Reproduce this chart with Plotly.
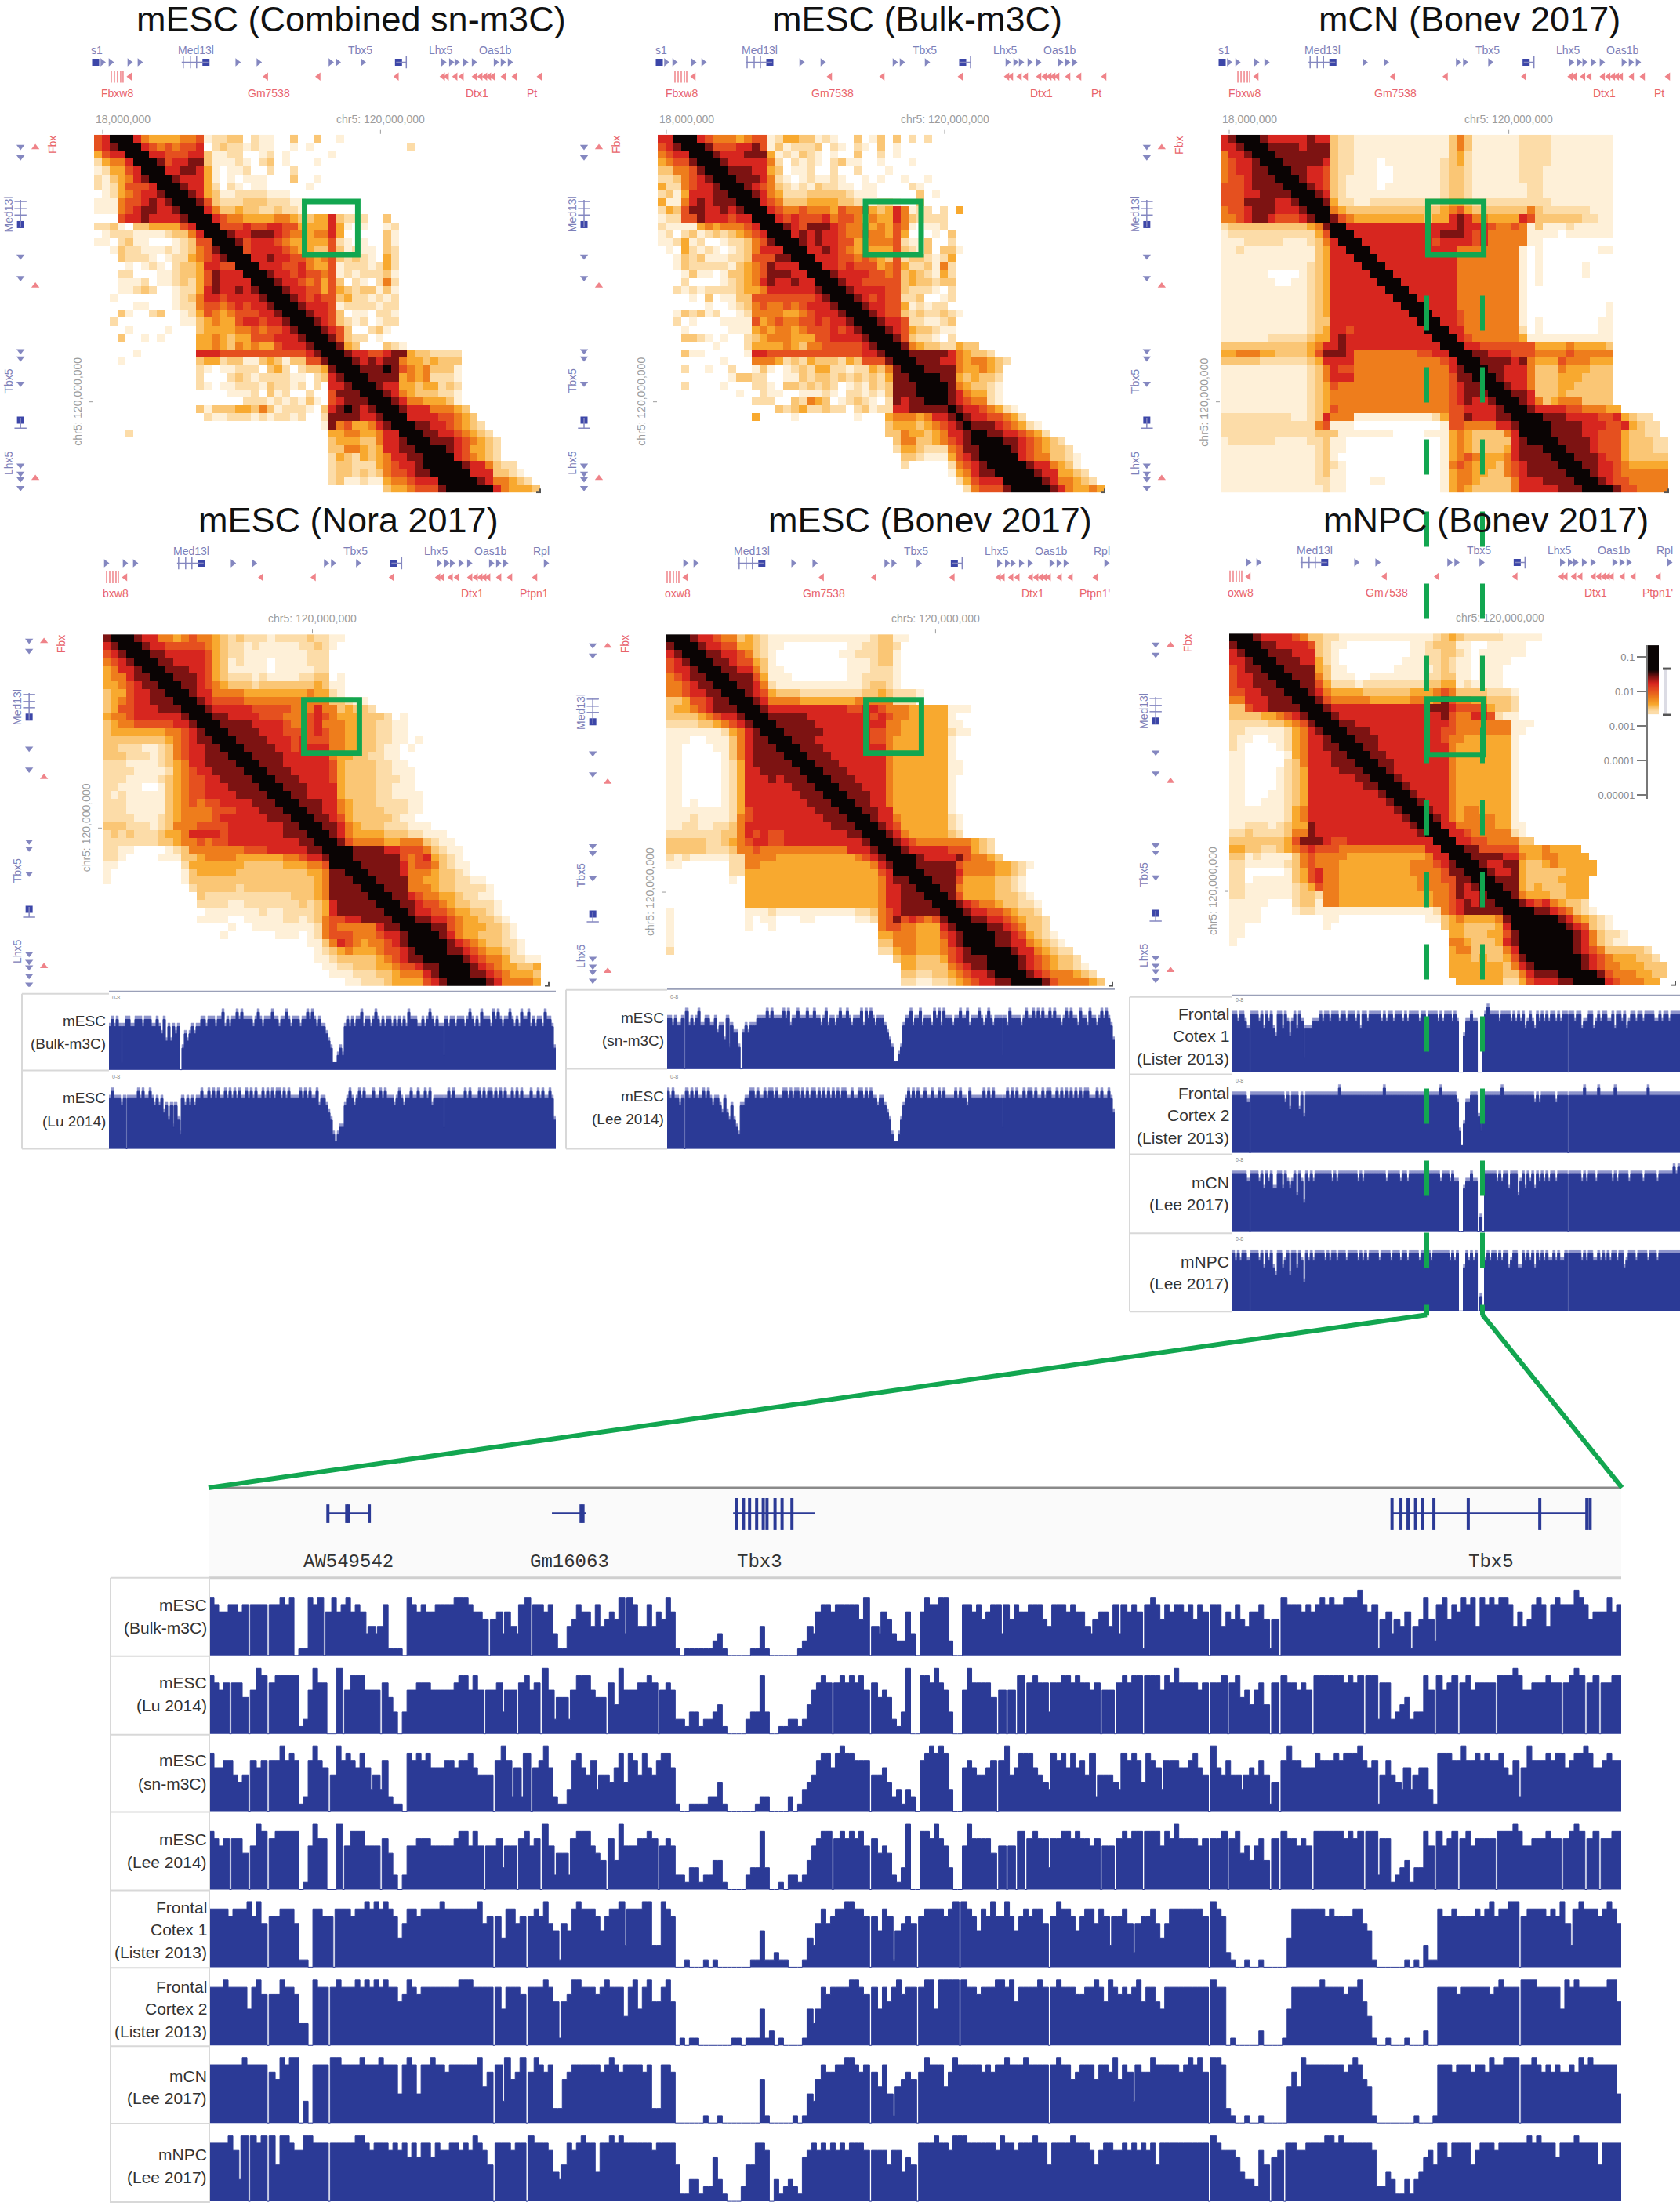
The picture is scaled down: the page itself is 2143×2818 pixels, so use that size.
import numpy as np
import plotly.graph_objects as go

W, H = 2143, 2818

# contact maps: each row is one bin, starts on the diagonal, digits are colour levels (0 white .. 9 black)
hm_combined = [
    "9996642122 0110201000", "997764211 1110211000", "99875432 2110320100 0001002000",
    "9975444 4556122330 2110030030 0100", "997656 5667023221 2110010100 0000000000 2",
    "99776 6677311220 0120100000 1", "9986 7788311121 0230100010", "997 7887410112 0020020000",
    "99 8777410101 1100030010", "9 9877420210 1100000100", "9987431122 2211100000",
    "998632223 3322211000", "99753343 3223221000", "9976554 4445543344 7322200300",
    "996667 6677664444 7410100120", "99877 8887655455 7400000310", "9986 7776544444 6210100310",
    "996 7777654433 6312110320", "99 7787766545 6323210420", "9 9777667544 6122212420",
    "9987767665 6121222310", "998776564 6302102520", "99877664 6432331310", "9987676 6342212120",
    "998777 6122221220", "99877 6301102210", "9987 6321201220", "998 7630023100", "99 8632201000",
    "9 9843000321", "9987766788 4332222", "998787885 4434333", "99888986 5453331", "9988884 5452221",
    "998774 4344232", "99875 4333221", "9987 5544431", "998 7775554 3", "99 7777665 43",
    "9 9887765 432", "9988776543 2", "998887654 32", "99987644 32", "999765 432", "99987 7532 2",
    "9997 7733 21", "999 8755432", "99 9975 4443",
]
hm_bulk = [
    "9997654324 2421211000", "997765322 3142121100", "99876532 1132102011 0020012",
    "9976555 4566124433 1210030130 30202", "998666 7786131222 3021021030 1000",
    "99877 7888412132 1010030020 1", "9987 7777520212 1023110010 001", "998 8877430112 0020020001",
    "99 8887521012 1121001010 01001", "9 9876532121 3221101100 0021", "9987542223 3333211100 000301",
    "997653334 4443321122 1003", "99765565 5546556434 751220204", "9976766 6756654544 7532222",
    "998768 8876555454 65101120", "99787 8776556554 640001030", "9987 8776645555 621130020",
    "997 7876545444 632130331", "99 7776656543 623321240", "9 9776766645 642231520",
    "9987777665 634321420", "998776666 634332330", "99877776 632221020", "9987676 622300120",
    "998776 641212200", "99876 632322321", "9987 76221123", "998 76433211", "99 86322102",
    "9 9854332 2433", "9988888 7543 32", "9988877 5455432", "998888 544543", "99988 434332",
    "9998 543321", "998 754421", "98 7655 21", "9 8776 5421", "9 8776 6542", "9 8887 6542 1",
    "9988 7765 42", "99988 7654 32", "99987 6543 32", "9997 6553 321", "9998 7754 31",
    "9998 7744 32", "999 8755 432", "99 9875 4454",
]
hm_mcn = [
    "9987755556 6655211111 1111111113 4311111122 2111111111", "998776666 6665321111 1111111113 4311111122 2211111111",
    "99877766 6666321211 1111111113 5311111122 2211111111", "9987777 7877322111 1111111113 5311111122 2211111111",
    "998888 7888322111 1111111113 5311111122 2211111111", "99888 8888322111 1111111113 4211111122 2211111111",
    "9988 8887322111 0111111123 4211111122 2211111111", "998 8776322111 0011111123 3211111122 2111111111",
    "99 8776321111 0011111123 3211111122 2111111111", "9 9876321111 0111111123 3211111112 2111111111",
    "9987321111 1111111123 3211111112 2111111111", "998422112 2222222234 4322222222 2211111111",
    "99543333 3333333345 6433333335 3222222111", "9865444 4444443447 8755444476 3333332211",
    "997777 7777777777 8777655651 3111211111", "99777 7777777788 8767555551 1110111111",
    "9977 7777777677 7767555551 1000000000", "997 7777777777 5555555510 1000000011", "99 7777777777 5555555510 1000000000",
    "9 9777777777 5555555510 1000001000", "9977777777 5555555510 1000001000", "997777777 5555555510 1000000000",
    "99777777 5555555510 0000000000", "9977777 5555555510 0000000000", "997777 5555555510 0000000001",
    "99777 6555555510 0000000001", "9977 6555555510 1000000011", "997 7555555520 1000000011",
    "99 7655555541 1111111111", "9 9776666666 4444544443", "9988777666 5555655555", "998888785 4446555444",
    "99887775 3335444333", "9987775 3334443333", "998775 3334433333", "99887 3334333333", "9987 5345553333",
    "998 7777665554 4", "99 9888777766 7432 2", "9 9988887776 6743 22", "9988887766 643 322", "998888766 6433 322",
    "99888766 6433 322", "9988876 6433 3333", "99887 7654 44444", "9987 76555 5555", "998 76655 5555", "99 98665 5555",
]
hm_nora = [
    "9887654443 3343333322 2222223222 2111", "998765544 4454433322 2212223322 2100", "99877554 5655432322 2122223221 1000",
    "9987766 6665432212 1111122321", "998877 7776432211 1111112220", "99887 7776431211 1011112220", "9988 8776431111 1011111220",
    "998 8876432221 2111122330 1", "99 8876543332 3333333431 1", "9 9877555544 4444445442 1", "9987666655 5555555553 3211",
    "998777776 6666555755 3433 2", "99887777 6665556765 4443332 01", "9988887 7776556755 5443322 11",
    "998888 7776666765 5443322110", "99888 8777676665 5443322110 1", "9988 8877677775 5443321101", "998 8887777775 4433221100",
    "99 8887777776 4333322110", "9 9888777776 4333322111", "9988877776 4333322211", "998887777 4333322111", "99887777 4333322111 1",
    "9988877 5433322221 1", "998877 5433332221 1", "99887 6433333211", "9988 7543332221 11", "998 7544443332 2111",
    "99 8655554455 5321 1", "9 9988887766 6532 11", "9988888865 6743 21", "998888875 6653 211", "99888875 5543 321",
    "9988885 5443322110", "998885 5543322221", "99887 6554432211", "9988 7665433222 1", "998 7766544332 1",
    "99 8877654433 21", "9 9988654443 321", "9998754433 321", "99987654 3322 1", "998876544 321", "99987655 4221 1",
    "9998765 4433 4", "998876 5444 3", "99987 5555 4",
]
hm_bonev = [
    "9987665553 3321111111 1111112332 1000001111 12", "998776553 4321111111 1111112331 1", "99877664 4321100000 0001122332",
    "9988776 5321000000 0011222331", "998876 6431000000 0001112331", "99887 7531100000 0001112221", "9988 8641110000 0001122221",
    "998 8752111111 1111123321", "99 8764333222 2222233432 221", "9 9875555444 4444555552 22",
    "9987777777 7776677655 5444441 11", "998888877 7777776765 5444441", "99888887 7777777755 4444441 1", "9988888 7777776655 4444442 11",
    "998887 7777776654 4444441", "99888 7777777754 4444441", "9988 8777777754 4444441", "998 8877777754 4444441 1",
    "99 8887777754 4444441 1", "9 9888777754 4444441", "9988877754 4444441", "998887754 4444441", "99887754 4444441",
    "9988774 4444441", "998775 4444442 1", "99876 4444442 1", "9987 5444443 2", "998 7655555 55432", "99 8777776 66432",
    "9 9987777 865543", "9988888655 5544 321", "998888755 5544 32", "99888644 4433 21", "9988544 4433 21", "998644 4433 321",
    "99876 5543 3221", "9987 7665 4332", "998 8776 54332", "99 9887 65332", "9 9988 764321", "9988775432 1", "99987754 322",
    "99987654 332", "9987654 3321", "998765 5543 2", "99986 5555 43",
]
hm_npc = [
    "9987766665 3322221111 1111112343 2222211111 1", "998777765 3322111111 1111112343 2222211111", "99887777 6321100000 0001123331 10011111",
    "9988877 7321000000 0001122332 10111111", "998887 7421000000 0011122321 101111", "99888 8431100000 0111112321 10111",
    "9988 8531110011 1111122331 10111", "998 8642221222 2222233441 21111", "99 8754444333 3334445653 3332 221",
    "9 9865555544 4445545865 5443 332", "9987777777 7777788876 6664 332", "998777777 7777777865 5776 211",
    "99887777 7777777765 5555551 11", "9988877 7777777665 5555551 1", "998887 7777777655 4444441", "99887 7777777754 4444441",
    "9988 7777777754 4444441", "998 8777777754 4444441", "99 8777777754 4444441", "9 9877777754 4444441", "9987777754 4444441",
    "998777754 4444441", "99877754 4444441", "9987754 5544441", "998754 5555441", "99775 5555441 1", "9977 6555552 1",
    "997 7665555 33", "99 8866666 4445444 4", "9 9888877 5445544 4 4", "9987788 4334544 4 44", "998778 4333334 44 4",
    "99888 43333 4444", "9988 434 3334 44", "998 544 4334 44", "99 8767 543 32", "9 9988 7653 21", "99999 8754 321",
    "99999 8763 21", "99999 8753 221", "9999 8753 211", "999 8765 33333 2", "999 8765 4443 32", "99 8765 5444 333",
    "9 9986 5554 433", "9997 6555 44",
]
hm_levels = ["#ffffff", "#fef0d8", "#fcdca8", "#fac675", "#f8a92f", "#ee7d1c", "#e5501f", "#d7261f", "#7d1312", "#0a0404"]

# genes, in bins of the top left map
blue_arrows = [1.05, 2.1, 4.5, 5.8, 18.3, 21, 30.2, 31.1, 34.3, 44.6, 45.6, 46.3, 47.4, 48.5, 51.3, 52.2, 53.1, 58.3]
red_arrows = [4.6, 22, 28.7, 38.7, 44.6, 45.1, 46.2, 47, 48.7, 49.4, 50, 50.5, 51, 52.4, 53.8, 57]
left_red_arrows = [4.6, 22, 46.2]
blue_ticks = [11.4, 12.3, 13.1, 39.9]
blue_blocks = [0.2, 14.3, 38.9]
red_ticks = [2.2, 2.6, 3, 3.4, 3.7]
gene_spans = [(11.2, 14.6), (38.6, 39.9)]

# tracks, digits are heights 0..9, ten bins per group
trk_bulk = "6767616776 6777677766 7657464656 0354565667 7677767786 7677878777 7678767778 7767787677 7677878767 6654311232 6767677867 7678767677 6767676877 7667678767 6627677677 7678767687 7768787677 8767687786 7677687763"
trk_lu = "7877767077 7787877876 7675646364 2767676778 7787878778 7878787787 8787787878 7887878777 7878787786 7765421233 6787678787 7787787877 7678767787 7877878677 7737878777 7878777878 7887878787 7878787778 7787877874"
trk_sn = "7767667086 7678667766 7566473655 3056566677 7787877778 7867787778 7787767867 7678778767 7786878767 7765431123 6778677867 7768786877 7677877867 7787678767 7727687777 6787787878 7787877678 7877687768 7767878764"
trk_lee = "8787767087 8787787876 7765754643 2667788787 7878878778 8787887878 7887878787 8787887787 7887878776 7765421124 6787878778 7787787877 7787877687 7777878787 7737878787 7878878778 7887787878 7878787887 7787877875"
trk_fc1 = "8878876088 8786878658 8687578687 2666777878 8788878878 8878688788 8887878878 8878788887 8878888787 8887870057 7877003898 8887888878 7878678768 7878788787 8808878867 7886787887 7868878678 8788788887 7878878888"
trk_fc2 = "8888887088 8888888888 8878688868 5888888888 8888898888 8888888888 8888988888 8888888888 8888888898 8888873147 7888538888 8888988888 8888888878 7888888788 8808888889 8888898888 8898888888 8888889888 8888888888"
trk_mcn = "8888887088 8786878668 8687678587 4878788888 8878788888 8887878888 8888878888 8788788888 8878888878 8878770067 7877020888 8878788688 8578687868 7878788788 8808888878 7888788888 8787888878 8888788888 7888888989"
trk_npc = "8787887088 8786878658 8678588687 4878788887 8788788878 8887878788 8878888788 8788788887 8878788888 8878780068 7878020787 8878788678 8668787868 7878778787 7808888878 7887787878 7887886788 8788887888 7888888888"

det_bulk = "8766776707 7707787801 1878068678 6763434711 1087676677 7788876650 5636437807 7673114576 6474565838 7447465861 0111111231 0000011410 0000012436 7767777758 0436532263 0687788200 7767567737 5766777547 7767664356 6473767617 8757677675 7607746575 4667515087 7767678787 7888976715 6354614585 2785768784 8787887464 5787478777 9875666867"
det_lu = "8767077506 9807888881 2697700906 8886660753 0366777666 6678868606 6736607867 0962552688 8655074966 6778706762 2133122341 0000233830 0112212467 8707878786 0756521390 0887976300 6977775060 6080787737 7887877670 6607878808 8868797777 6707780785 6467407087 7676088888 8787808827 7234523386 0867807867 7770888986 6777877078 9807807788"
det_sn = "8667754507 6707797871 2797605978 7686353721 1087878666 7767786555 0797262806 7962113786 5735546848 7586578861 0011112241 0000001220 0002013457 8868988777 0556423132 0789898300 6765567079 5688865438 7868675825 5543878748 7637776678 6509657553 5657514079 7766687778 7888976715 7543635663 1888779778 7877865726 9777878867 8898667877"
det_lee = "8767077506 9807888880 1697700906 8886660752 0266777666 6678868606 6736607867 0962552788 8654074966 6778706762 2133122441 0000233830 0102212467 8807878786 0756521390 0887976300 6977775060 6080787737 7887877670 6607878808 8868797777 6707780785 6467407087 7676088888 8787808827 7123413386 0867807867 7770888986 6777877078 9807807788"
det_fc1 = "8888788897 9607788861 1088770888 7889898987 4688788889 8888888967 0748867078 7965165898 8875788938 8899339870 0100010100 0000011511 2110001436 8678899887 0758715676 0788887890 9875879779 7578788607 9887578868 7377862677 8646888888 8709872100 1001000004 8888888787 7778865100 0000101031 1877877778 7897889907 8888787963 8988878986"
det_fc2 = "8889888858 9707798873 3098808988 8989898988 6798788888 8889998888 0858887088 8986167998 8878988848 9589668960 1011000000 0110111512 0100001535 8788889987 0858689788 0899599990 9887888998 9688889808 9888778898 6987878968 8658888888 8809880100 0002000015 8888889888 8788964100 1000100020 0888878888 8878988809 9988888598 9888888996"
det_mcn = "8888888988 8807698990 3088809988 8898889888 4898488988 7888888957 0839679079 8782267888 8887898788 8878228870 0000010010 0000000610 0000101436 8778899878 0758415676 0798885798 8888787889 8889888808 9886788868 8796873877 9888887898 9709982100 1001000005 7598888888 8789865100 0000001000 1888788878 8798899908 8987878778 7989888884"
det_npc = "8888973909 8909599877 9988808888 8998788878 7868688687 7887879875 0888788098 8874358789 8848898988 8888788885 1133122631 0002558870 3123216787 8787878887 0777577465 0888988799 9888888798 8788898858 8889888757 8877878787 8588888888 8809877764 3327506708 8778888998 9888888722 4311313467 5886888857 8887888888 9898886888 9888858888"

colorbar_exp = [-0.76, -0.96, -1.16, -1.36, -1.56, -1.76, -1.96, -2.16, -2.36, -2.56]
colorbar_lvl = [9, 9, 9, 9, 8, 7, 6, 5, 4, 2]
colorbar_ticks = ["0.1", "0.01", "0.001", "0.0001", "0.00001"]

GREEN = "#12a650"
TRACK = "#2b3a96"
TRACK_TOP = "#8f95cc"
BLUE_T = "#7d80b8"
RED_T = "#e8636b"
BLUE_M = "#8487c0"
RED_M = "#ef8389"
GRAY_T = "#9c9c9c"
FONT = "Liberation Sans"

fig = go.Figure()
axis_n = 0


def px(x):
    return x / W


def py(y):
    return 1 - y / H


def new_axes(x0, x1, y0, y1, xr, yr):
    global axis_n
    axis_n += 1
    n = axis_n
    fig.layout[f"xaxis{n}"] = dict(domain=[px(x0), px(x1)], range=xr, visible=False, anchor=f"y{n}", fixedrange=True)
    fig.layout[f"yaxis{n}"] = dict(domain=[py(y1), py(y0)], range=yr, visible=False, anchor=f"x{n}", fixedrange=True)
    return f"x{n}", f"y{n}"


def text(x, y, s, size=18, color="#333333", anchor="right", font=FONT, angle=0):
    fig.add_annotation(x=px(x), y=py(y), xref="paper", yref="paper", text=s, showarrow=False, xanchor=anchor,
                       yanchor="middle", font=dict(size=size, color=color, family=font), textangle=angle)


def hline(x0, x1, y, color="#d8d8d8", width=2):
    fig.add_shape(type="line", xref="paper", yref="paper", x0=px(x0), x1=px(x1), y0=py(y), y1=py(y),
                  line=dict(color=color, width=width))


def vline(x, y0, y1, color="#d8d8d8", width=2):
    fig.add_shape(type="line", xref="paper", yref="paper", x0=px(x), x1=px(x), y0=py(y0), y1=py(y1),
                  line=dict(color=color, width=width))


def decode_map(rows, off):
    s = np.zeros((70, 70))
    for b, row in enumerate(rows):
        for i, ch in enumerate(row.replace(" ", "")):
            s[b, b + i] = s[b + i, b] = int(ch)
    return s[off:off + 45, :57]


def markers(xa, ya, xs, ys, symbol, color, size=9, lw=0):
    fig.add_trace(go.Scatter(x=xs, y=ys, xaxis=xa, yaxis=ya, mode="markers", hoverinfo="skip",
                             marker=dict(symbol=symbol, color=color, size=size, line=dict(color=color, width=lw))))


def seg(xa, ya, xs, ys, color, width):
    fig.add_trace(go.Scatter(x=xs, y=ys, xaxis=xa, yaxis=ya, mode="lines", line=dict(color=color, width=width), hoverinfo="skip"))


def note(xa, ya, x, y, s, color, angle=0, anchor="center"):
    fig.add_annotation(x=x, y=y, xref=xa, yref=ya, text=s, showarrow=False, textangle=angle, xanchor=anchor,
                       font=dict(size=14, color=color, family=FONT))


def draw_map(rows, x0, x1, y0, y1, off, shift, box, tick, title, title_x, title_y, blue_labels, red_labels, first_tick):
    xa, ya = new_axes(x0, x1, y0, y1, [-0.5, 56.5], [44.5, -0.5])
    fig.add_trace(go.Heatmap(z=decode_map(rows, off), xaxis=xa, yaxis=ya, zmin=0, zmax=9, showscale=False, hoverinfo="skip",
                             colorscale=[[i / 9, c] for i, c in enumerate(hm_levels)]))
    # second pair of axes, same scale as the map, reaching over the gene tracks around it
    cw, ch = (x1 - x0) / 57, (y1 - y0) / 45
    xo, yo = new_axes(x0 - 115, x1 + 5, y0 - 120, y1 + 1, [-0.5 - 115 / cw, 56.5 + 5 / cw], [44.5 + 1 / ch, -0.5 - 120 / ch])

    shift = shift - 0.5
    box = [v - 0.5 for v in box]
    tick = [v - 0.5 for v in tick]

    def top(cols):
        return [c + shift for c in cols if -0.4 <= c + shift <= 56.6]

    def left(cols):
        return [c + shift - off for c in cols if -0.4 <= c + shift - off <= 44.5]

    # gene tracks above the map
    xs = top(blue_arrows)
    markers(xo, yo, xs, [-9.6] * len(xs), "triangle-right", BLUE_M)
    xs = top(red_arrows)
    markers(xo, yo, xs, [-7.8] * len(xs), "triangle-left", RED_M)
    xs = top(blue_ticks)
    markers(xo, yo, xs, [-9.6] * len(xs), "line-ns", BLUE_M, 11, 1.5)
    xs = top(blue_blocks)
    markers(xo, yo, xs, [-9.6] * len(xs), "square", "#3c46a8", 9)
    xs = top(red_ticks)
    markers(xo, yo, xs, [-7.8] * len(xs), "line-ns", RED_M, 11, 1.5)
    # same genes, turned, on the left
    ys = left(blue_arrows)
    markers(xo, yo, [-9.9] * len(ys), ys, "triangle-down", BLUE_M)
    ys = left(left_red_arrows)
    markers(xo, yo, [-8] * len(ys), ys, "triangle-up", RED_M)
    ys = left(blue_ticks)
    markers(xo, yo, [-9.9] * len(ys), ys, "line-ew", BLUE_M, 11, 1.5)
    ys = left(blue_blocks)
    markers(xo, yo, [-9.9] * len(ys), ys, "square", "#3c46a8", 9)
    for a, b in gene_spans:
        seg(xo, yo, [a + shift, b + shift], [-9.6, -9.6], BLUE_M, 1.5)
        seg(xo, yo, [-9.9, -9.9], [a + shift - off, b + shift - off], BLUE_M, 1.5)

    for name, col in blue_labels:
        note(xo, yo, col + shift, -11.1, name, BLUE_T)
    for name, col in red_labels:
        note(xo, yo, col + shift, -5.7, name, RED_T)
    for name, col in [("Med13l", 13), ("Tbx5", 34), ("Lhx5", 44.3)]:
        note(xo, yo, -11.4, col + shift - off, name, BLUE_T, angle=-90)
    note(xo, yo, -5.8, 0.8, "Fbx", RED_T, angle=-90)

    # genome coordinates
    note(xo, yo, tick[0], -2.5, "chr5: 120,000,000", GRAY_T)
    note(xo, yo, -2.6, tick[1], "chr5: 120,000,000", GRAY_T, angle=-90)
    seg(xo, yo, [tick[0], tick[0]], [-1.1, -0.6], GRAY_T, 1)
    seg(xo, yo, [-1.1, -0.6], [tick[1], tick[1]], GRAY_T, 1)
    if first_tick:
        note(xo, yo, -0.5, -2.5, "18,000,000", GRAY_T, anchor="left")
        seg(xo, yo, [0.6, 0.6], [-1.1, -0.6], GRAY_T, 1)
    seg(xo, yo, [56.0, 56.5, 56.5], [44.5, 44.5, 44.0], "#555555", 2)

    fig.add_shape(type="rect", xref=xa, yref=ya, x0=box[0], x1=box[1], y0=box[2], y1=box[3], line=dict(color=GREEN, width=7))
    text(title_x, title_y, title, size=45, color="#111111", anchor="center")


def step_edges(vals):
    # a single low bin between tall ones is a thin gap, not a whole bin wide
    edges = np.arange(len(vals) + 1, dtype=float)
    for i in range(1, len(vals) - 1):
        if vals[i] <= 3 and vals[i - 1] >= 4 and vals[i + 1] >= 4:
            edges[i] = i + 0.3
            edges[i + 1] = i + 0.7
    return edges


def draw_track(values, x0, x1, baseline, height, hazy=False):
    vals = [int(c) for c in values.replace(" ", "")]
    xa, ya = new_axes(x0, x1, baseline - height, baseline + 1, [0, len(vals)], [-0.1, 9.6])
    edges = step_edges(vals)
    if hazy:
        # the fine spikes at the top of these tracks read as a paler fringe
        tops = [v + 0.5 if v > 1 else v for v in vals]
        fig.add_trace(go.Scatter(x=edges, y=tops + tops[-1:], xaxis=xa, yaxis=ya, mode="lines", fill="tozeroy",
                                 line=dict(color=TRACK_TOP, width=0.5, shape="hv"), fillcolor=TRACK_TOP, hoverinfo="skip"))
    fig.add_trace(go.Scatter(x=edges, y=vals + vals[-1:], xaxis=xa, yaxis=ya, mode="lines", fill="tozeroy",
                             line=dict(color=TRACK, width=1, shape="hv"), fillcolor=TRACK, hoverinfo="skip"))


# hi-c maps
blue_abc = [("s1", 0.4), ("Med13l", 13), ("Tbx5", 34), ("Lhx5", 44.3), ("Oas1b", 51.2)]
red_abc = [("Fbxw8", 3), ("Gm7538", 22.3), ("Dtx1", 48.9), ("Pt", 55.9)]
blue_def = [("Med13l", 13), ("Tbx5", 34), ("Lhx5", 44.3), ("Oas1b", 51.2), ("Rpl", 57.7)]

draw_map(hm_combined, 120, 689, 172, 629, 3, 0, (26.9, 33.7, 8.4, 15.1), (36.6, 33.6), "mESC (Combined sn-m3C)", 448, 25, blue_abc, red_abc, True)
draw_map(hm_bulk, 839, 1409, 172, 629, 3, 0, (26.5, 33.6, 8.4, 15.1), (36.6, 33.6), "mESC (Bulk-m3C)", 1170, 25, blue_abc, red_abc, True)
draw_map(hm_mcn, 1557, 2128, 172, 629, 3, 0, (26.4, 33.5, 8.4, 15.1), (36.7, 33.6), "mCN (Bonev 2017)", 1875, 25, blue_abc, red_abc, True)
draw_map(hm_nora, 131, 700, 810, 1259, 2, -1.7, (25.7, 32.8, 8.4, 15.2), (26.8, 24.8), "mESC (Nora 2017)", 444, 664,
         blue_def, [("bxw8", 3.4), ("Dtx1", 48.9), ("Ptpn1", 56.8)], False)
draw_map(hm_bonev, 850, 1419, 810, 1259, 1, -2.1, (25.5, 32.6, 8.4, 15.2), (34.4, 33), "mESC (Bonev 2017)", 1186, 664,
         blue_def, [("oxw8", 3.6), ("Gm7538", 22.2), ("Dtx1", 48.9), ("Ptpn1'", 56.8)], False)
draw_map(hm_npc, 1568, 2137, 809, 1258, 1, -2.1, (25.3, 32.5, 8.4, 15.5), (34.6, 33), "mNPC (Bonev 2017)", 1895, 664,
         blue_def, [("oxw8", 3.6), ("Gm7538", 22.2), ("Dtx1", 48.9), ("Ptpn1'", 56.8)], False)

# colour scale next to the last map
xa, ya = new_axes(2102, 2116, 824, 1020, [-0.5, 0.5], [-5.11, -0.66])
fig.add_trace(go.Heatmap(z=[[v] for v in colorbar_lvl], y=colorbar_exp, x=[0], xaxis=xa, yaxis=ya, zmin=0, zmax=9, showscale=False,
                         hoverinfo="skip", zsmooth="best", colorscale=[[i / 9, c] for i, c in enumerate(hm_levels)]))
fig.layout[f"yaxis{axis_n}"].update(visible=True, showgrid=False, zeroline=False, showline=True, linecolor="#777777", linewidth=2,
                                    ticks="outside", ticklen=12, tickcolor="#777777", tickwidth=2,
                                    tickvals=[-1, -2, -3, -4, -5], ticktext=colorbar_ticks,
                                    tickfont=dict(size=13, color="#888888", family=FONT))
fig.add_shape(type="rect", xref="paper", yref="paper", x0=px(2122), x1=px(2126), y0=py(913), y1=py(854), fillcolor="#dcdce4", line_width=0)
hline(2121, 2132, 854, "#555555", 3)
hline(2121, 2132, 913, "#555555", 3)

# tracks under the maps
upper = [
    (trk_bulk, 139, 709, 1366, ["mESC", "(Bulk-m3C)"], [1304, 1333]),
    (trk_lu, 139, 709, 1467, ["mESC", "(Lu 2014)"], [1402, 1432]),
    (trk_sn, 851, 1422, 1365, ["mESC", "(sn-m3C)"], [1300, 1329]),
    (trk_lee, 851, 1422, 1467, ["mESC", "(Lee 2014)"], [1400, 1429]),
    (trk_fc1, 1572, 2143, 1369, ["Frontal", "Cotex 1", "(Lister 2013)"], [1295, 1323, 1352]),
    (trk_fc2, 1572, 2143, 1472, ["Frontal", "Cortex 2", "(Lister 2013)"], [1396, 1424, 1453]),
    (trk_mcn, 1572, 2143, 1573, ["mCN", "(Lee 2017)"], [1510, 1538]),
    (trk_npc, 1572, 2143, 1674, ["mNPC", "(Lee 2017)"], [1611, 1639]),
]
for vals, x0, x1, base, labels, ys in upper:
    draw_track(vals, x0, x1, base, 88, hazy=True)
    size = 21 if x0 > 1500 else 19
    for s, y in zip(labels, ys):
        text(x0 - 2, y, s, size=size)
    text(x0 + 2, base - 92, "0-8", size=7, color="#888888", anchor="left")

for x0, x1, ys in [(28, 139, [1269, 1367, 1467]), (722, 851, [1264, 1365, 1467]), (1441, 1572, [1273, 1372, 1474, 1575, 1675])]:
    for y in ys:
        hline(x0, x1, y)
    vline(x0, ys[0], ys[-1])
hline(139, 709, 1266, "#9aa0b8", 2)
hline(851, 1422, 1263, "#9aa0b8", 2)
hline(1572, 2143, 1271, "#9aa0b8", 2)

# zoomed region
fig.add_shape(type="rect", xref="paper", yref="paper", x0=px(267), x1=px(2068), y0=py(2015), y1=py(1900), fillcolor="#fafafa", line_width=0, layer="below")
hline(267, 2068, 1900, "#8a8a8a", 3)
hline(267, 2068, 2015, "#cfcfcf", 3)

xa, ya = new_axes(267, 2068, 1913, 1954, [0, 300], [0, 1])
gene_lines = [(25.2, 34), (72.8, 80), (111.3, 128.7), (251.3, 292.7)]
short_exons = [25.2, 29.2, 29.5, 34, 79, 79.4]
tall_exons = [112, 113.5, 114.8, 116.3, 117.7, 118.5, 120.2, 121.7, 123.8, 251.3, 253.2, 254.7, 256.3, 257.7, 260.2, 267.5, 282.7, 292.7, 293.4]
xs, ys = [], []
for a, b in gene_lines:
    xs += [a, b, None]
    ys += [0.52, 0.52, None]
seg(xa, ya, xs, ys, TRACK, 2.5)
xs, ys = [], []
for e in short_exons:
    xs += [e, e, None]
    ys += [0.22, 0.8, None]
for e in tall_exons:
    xs += [e, e, None]
    ys += [0, 1, None]
seg(xa, ya, xs, ys, TRACK, 4)
for s, x in [("AW549542", 444), ("Gm16063", 726), ("Tbx3", 969), ("Tbx5", 1902)]:
    text(x, 1995, s, size=24, color="#333333", anchor="center", font="Liberation Mono")

lower = [
    (det_bulk, 2114, ["mESC", "(Bulk-m3C)"], [2050, 2079]),
    (det_lu, 2214, ["mESC", "(Lu 2014)"], [2149, 2178]),
    (det_sn, 2313, ["mESC", "(sn-m3C)"], [2248, 2278]),
    (det_lee, 2413, ["mESC", "(Lee 2014)"], [2349, 2378]),
    (det_fc1, 2512, ["Frontal", "Cotex 1", "(Lister 2013)"], [2436, 2464, 2493]),
    (det_fc2, 2612, ["Frontal", "Cortex 2", "(Lister 2013)"], [2537, 2565, 2594]),
    (det_mcn, 2711, ["mCN", "(Lee 2017)"], [2651, 2679]),
    (det_npc, 2811, ["mNPC", "(Lee 2017)"], [2751, 2780]),
]
for vals, base, labels, ys in lower:
    draw_track(vals, 267, 2068, base, 89)
    hline(141, 267, base + 1)
    for s, y in zip(labels, ys):
        text(266, y, s, size=21)
hline(141, 267, 2015)
vline(141, 2015, 2813)
vline(267, 2015, 2813)

# green dashes and the lines that lead to the zoomed region
for x in [1820, 1891]:
    fig.add_shape(type="line", xref="paper", yref="paper", x0=px(x), x1=px(x), y0=py(377), y1=py(1680),
                  line=dict(color=GREEN, width=6, dash="45px,47px"))
fig.add_shape(type="line", xref="paper", yref="paper", x0=px(1820), x1=px(266), y0=py(1679), y1=py(1900), line=dict(color=GREEN, width=6))
fig.add_shape(type="line", xref="paper", yref="paper", x0=px(1891), x1=px(2069), y0=py(1679), y1=py(1900), line=dict(color=GREEN, width=6))

fig.update_layout(width=W, height=H, autosize=False, margin=dict(l=0, r=0, t=0, b=0), showlegend=False,
                  paper_bgcolor="white", plot_bgcolor="rgba(0,0,0,0)", font=dict(family=FONT))
fig.write_html("out.html", config={"displayModeBar": False}, post_script="document.body.style.margin='0';")
